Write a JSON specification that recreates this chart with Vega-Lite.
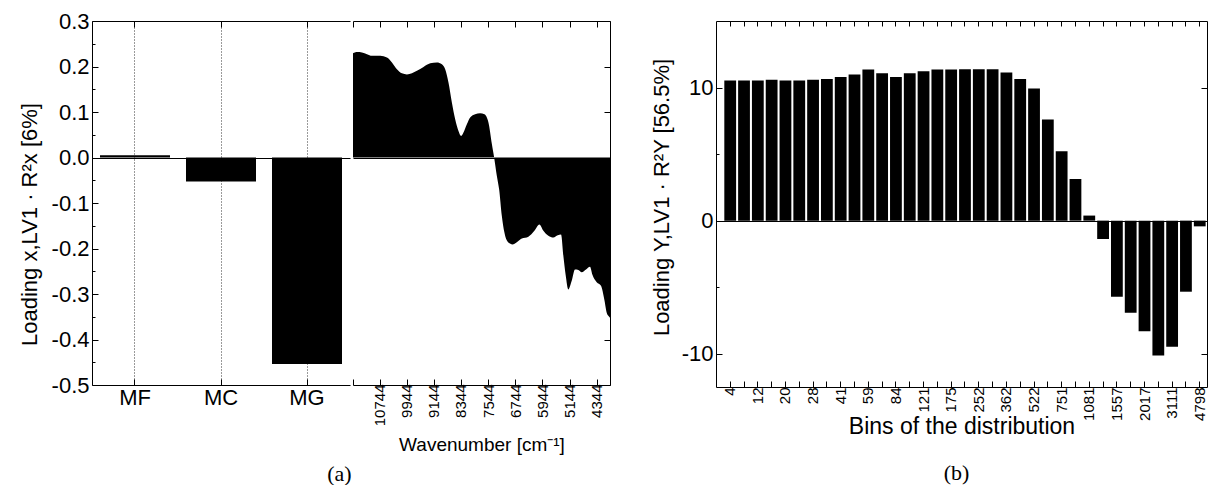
{
  "$schema": "https://vega.github.io/schema/vega-lite/v6.json",
  "background": "white",
  "padding": {"left": 18, "top": 10, "right": 1, "bottom": 0},
  "spacing": 37,
  "config": {
    "font": "Liberation Sans",
    "view": {"stroke": null},
    "axis": {
      "domainColor": "black", "tickColor": "black", "labelColor": "black", "titleColor": "black",
      "titleFontWeight": "normal", "labelFontSize": 22, "titleFontSize": 22, "domainWidth": 1, "tickWidth": 1,
      "labelFont": "Liberation Sans", "titleFont": "Liberation Sans"
    },
    "title": {"font": "Liberation Serif", "fontSize": 22, "fontWeight": "normal", "color": "black", "anchor": "middle"}
  },
  "hconcat": [
    {
      "title": {"text": "(a)", "orient": "bottom", "offset": 10, "anchor": "middle", "dx": 24},
      "spacing": 0,
      "hconcat": [
        {
          "width": 258, "height": 364,
          "data": {"values": [
            {"variable": "MF", "loading": 0.005},
            {"variable": "MC", "loading": -0.053},
            {"variable": "MG", "loading": -0.454}
          ]},
          "layer": [
            {
              "mark": {"type": "bar", "color": "black"},
              "encoding": {
                "x": {"field": "variable", "type": "nominal", "sort": null,
                  "scale": {"paddingInner": 0.186, "paddingOuter": 0.093},
                  "axis": {"orient": "bottom", "title": null, "labelAngle": 0, "labelFontSize": 22, "grid": true, "gridColor": "black", "gridDash": [1, 2], "gridWidth": 0.8, "gridOpacity": 1, "tickSize": -6, "labelPadding": 8}},
                "y": {"field": "loading", "type": "quantitative",
                  "scale": {"domain": [-0.5, 0.3], "nice": false, "zero": false},
                  "axis": {"orient": "left", "title": "Loading x,LV1 · R²x [6%]",
                    "grid": true, "gridColor": "black", "gridWidth": 1,
                    "gridOpacity": {"condition": {"test": "abs(datum.value) < 0.001", "value": 1}, "value": 0},
                    "values": [-0.5, -0.45, -0.4, -0.35, -0.3, -0.25, -0.2, -0.15, -0.1, -0.05, 0, 0.05, 0.1, 0.15, 0.2, 0.25, 0.3],
                    "labelExpr": "abs(round(datum.value*20)) % 2 === 0 ? replace(format(datum.value, '.1f'), '−', '-') : ''",
                    "tickSize": {"condition": {"test": "abs(round(datum.value*20)) % 2 === 0", "value": -6}, "value": -3},
                    "labelPadding": 9, "titlePadding": 10, "titleY": 203}}
              }
            },
            {
              "mark": {"type": "tick", "opacity": 0},
              "encoding": {
                "x": {"field": "variable", "type": "nominal", "sort": null,
                  "axis": {"orient": "top", "labels": false, "title": null, "grid": false, "tickSize": -6}}
              }
            }
          ]
        },
        {
          "width": 257, "height": 364,
          "data": {"values": [
            {"wn": 11527, "v": 0.229}, {"wn": 11409, "v": 0.232}, {"wn": 11262, "v": 0.231}, {"wn": 11115, "v": 0.227},
            {"wn": 10968, "v": 0.2235}, {"wn": 10723, "v": 0.2235}, {"wn": 10526, "v": 0.22}, {"wn": 10379, "v": 0.209},
            {"wn": 10232, "v": 0.194}, {"wn": 10085, "v": 0.185}, {"wn": 9937, "v": 0.1825}, {"wn": 9790, "v": 0.185},
            {"wn": 9643, "v": 0.1905}, {"wn": 9449, "v": 0.199}, {"wn": 9251, "v": 0.207}, {"wn": 9054, "v": 0.209},
            {"wn": 8907, "v": 0.205}, {"wn": 8810, "v": 0.194}, {"wn": 8713, "v": 0.165}, {"wn": 8613, "v": 0.121},
            {"wn": 8515, "v": 0.084}, {"wn": 8418, "v": 0.0585}, {"wn": 8339, "v": 0.0475}, {"wn": 8271, "v": 0.055},
            {"wn": 8171, "v": 0.073}, {"wn": 8074, "v": 0.088}, {"wn": 7927, "v": 0.095}, {"wn": 7779, "v": 0.0975},
            {"wn": 7653, "v": 0.095}, {"wn": 7535, "v": 0.077}, {"wn": 7435, "v": 0.03}, {"wn": 7367, "v": 0.0},
            {"wn": 7288, "v": -0.04}, {"wn": 7220, "v": -0.07}, {"wn": 7141, "v": -0.128}, {"wn": 7064, "v": -0.165},
            {"wn": 6946, "v": -0.187}, {"wn": 6828, "v": -0.191}, {"wn": 6699, "v": -0.186}, {"wn": 6552, "v": -0.178},
            {"wn": 6357, "v": -0.174}, {"wn": 6181, "v": -0.161}, {"wn": 6034, "v": -0.147}, {"wn": 5916, "v": -0.161},
            {"wn": 5769, "v": -0.172}, {"wn": 5621, "v": -0.176}, {"wn": 5492, "v": -0.171}, {"wn": 5395, "v": -0.169},
            {"wn": 5327, "v": -0.216}, {"wn": 5256, "v": -0.26}, {"wn": 5180, "v": -0.29}, {"wn": 5080, "v": -0.271},
            {"wn": 4983, "v": -0.246}, {"wn": 4885, "v": -0.247}, {"wn": 4785, "v": -0.252}, {"wn": 4659, "v": -0.246},
            {"wn": 4541, "v": -0.24}, {"wn": 4473, "v": -0.257}, {"wn": 4344, "v": -0.274}, {"wn": 4217, "v": -0.282},
            {"wn": 4120, "v": -0.312}, {"wn": 4049, "v": -0.341}, {"wn": 4002, "v": -0.348}, {"wn": 3952, "v": -0.352}
          ]},
          "layer": [
            {
              "mark": {"type": "area", "color": "black", "interpolate": "monotone"},
              "encoding": {
                "x": {"field": "wn", "type": "quantitative",
                  "scale": {"domain": [3952, 11527], "reverse": true, "nice": false, "zero": false},
                  "axis": {"orient": "bottom", "title": "Wavenumber [cm⁻¹]", "titleFontSize": 19, "grid": false,
                    "titleBaseline": "middle", "titleY": 59,
                    "values": [11527, 10744, 9944, 9144, 8344, 7544, 6744, 5944, 5144, 4344],
                    "labelExpr": "datum.value > 11000 ? '' : format(datum.value, 'd')",
                    "labelAngle": -90, "labelFontSize": 15, "tickSize": -6, "labelPadding": 5}},
                "y": {"field": "v", "type": "quantitative",
                  "scale": {"domain": [-0.5, 0.3], "nice": false, "zero": false},
                  "axis": {"orient": "right", "labels": false, "title": null,
                    "grid": true, "gridColor": "black", "gridWidth": 1,
                    "gridOpacity": {"condition": {"test": "abs(datum.value) < 0.001", "value": 1}, "value": 0},
                    "values": [-0.5, -0.4, -0.3, -0.2, -0.1, 0, 0.1, 0.2, 0.3], "tickSize": -6}},
                "y2": {"datum": 0}
              }
            },
            {
              "mark": {"type": "point", "opacity": 0},
              "encoding": {
                "x": {"field": "wn", "type": "quantitative",
                  "axis": {"orient": "top", "labels": false, "title": null, "grid": false,
                    "values": [11527, 10744, 9944, 9144, 8344, 7544, 6744, 5944, 5144, 4344], "tickSize": -6}}
              }
            }
          ]
        }
      ]
    },
    {
      "title": {"text": "(b)", "orient": "bottom", "offset": 25, "anchor": "middle", "dx": -5},
      "width": 491, "height": 366,
      "data": {"values": [
        {"bin": "4", "loading": 10.53}, {"bin": "8", "loading": 10.53}, {"bin": "12", "loading": 10.53},
        {"bin": "16", "loading": 10.58}, {"bin": "20", "loading": 10.53}, {"bin": "24", "loading": 10.53},
        {"bin": "28", "loading": 10.58}, {"bin": "34", "loading": 10.65}, {"bin": "41", "loading": 10.8},
        {"bin": "49", "loading": 10.98}, {"bin": "59", "loading": 11.35}, {"bin": "70", "loading": 11.07},
        {"bin": "84", "loading": 10.8}, {"bin": "101", "loading": 11.07}, {"bin": "121", "loading": 11.23},
        {"bin": "146", "loading": 11.35}, {"bin": "175", "loading": 11.35}, {"bin": "210", "loading": 11.38},
        {"bin": "252", "loading": 11.38}, {"bin": "302", "loading": 11.38}, {"bin": "362", "loading": 11.13},
        {"bin": "435", "loading": 10.65}, {"bin": "522", "loading": 9.92}, {"bin": "627", "loading": 7.59},
        {"bin": "751", "loading": 5.21}, {"bin": "901", "loading": 3.13}, {"bin": "1081", "loading": 0.38},
        {"bin": "1297", "loading": -1.38}, {"bin": "1557", "loading": -5.71}, {"bin": "1800", "loading": -6.92},
        {"bin": "2017", "loading": -8.32}, {"bin": "2500", "loading": -10.13}, {"bin": "3111", "loading": -9.47},
        {"bin": "3860", "loading": -5.34}, {"bin": "4798", "loading": -0.43}
      ]},
      "layer": [
        {
          "mark": {"type": "bar", "color": "black"},
          "encoding": {
            "x": {"field": "bin", "type": "ordinal", "sort": null,
              "scale": {"paddingInner": 0.146, "paddingOuter": 0.35, "align": 0.86},
              "axis": {"orient": "bottom", "title": "Bins of the distribution", "titleFontSize": 23, "grid": false,
                "titleBaseline": "middle", "titleY": 39,
                "labelAngle": -90, "labelFontSize": 15,
                "labelExpr": "round(datum.index*34) % 2 === 0 ? datum.label : ''",
                "tickSize": -6, "labelPadding": 6}},
            "y": {"field": "loading", "type": "quantitative",
              "scale": {"domain": [-12.5, 15], "nice": false, "zero": false},
              "axis": {"orient": "left", "title": "Loading Y,LV1 · R²Y [56.5%]",
                "grid": true, "gridColor": "black", "gridWidth": 1,
                "gridOpacity": {"condition": {"test": "datum.value === 0", "value": 1}, "value": 0},
                "values": [-10, -5, 0, 5, 10],
                "labelExpr": "datum.value % 10 === 0 ? replace(datum.label, '−', '-') : ''",
                "tickSize": {"condition": {"test": "datum.value % 10 === 0", "value": -6}, "value": -3},
                "labelPadding": 9, "titlePadding": 8, "titleY": 176}}
          }
        },
        {
          "mark": {"type": "point", "opacity": 0},
          "encoding": {
            "x": {"field": "bin", "type": "ordinal", "sort": null,
              "axis": {"orient": "top", "labels": false, "title": null, "grid": false, "tickSize": -5}},
            "y": {"field": "loading", "type": "quantitative",
              "axis": {"orient": "right", "labels": false, "title": null, "grid": false, "values": [-10, 0, 10], "tickSize": -6}}
          }
        }
      ]
    }
  ]
}
